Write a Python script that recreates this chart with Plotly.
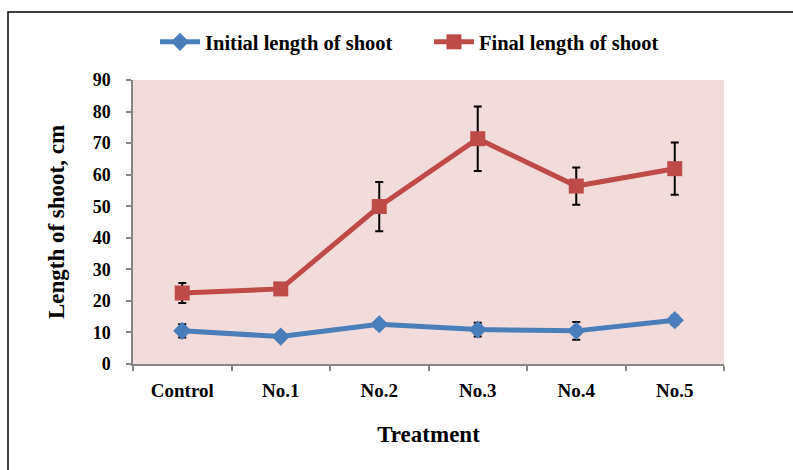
import plotly.graph_objects as go

# Treatment groups and measured shoot lengths (cm), mean ± error
treatments = ["Control", "No.1", "No.2", "No.3", "No.4", "No.5"]
initial_len = [10.5, 8.7, 12.6, 10.9, 10.5, 13.9]
initial_err = [2.1, 1.3, 0.8, 2.2, 2.8, 1.5]
final_len = [22.5, 23.8, 49.9, 71.4, 56.4, 61.9]
final_err = [3.2, 1.0, 7.8, 10.2, 5.9, 8.3]
y_ticks = [0, 10, 20, 30, 40, 50, 60, 70, 80, 90]

BLUE = "#4A7EBB"
RED = "#BE4B48"
FONT = "Liberation Serif"

fig = go.Figure()

fig.add_trace(go.Scatter(
    x=treatments, y=initial_len, name="Initial length of shoot",
    mode="lines+markers",
    line=dict(color=BLUE, width=5),
    marker=dict(symbol="diamond", size=14, color=BLUE),
    error_y=dict(type="data", array=initial_err, color="black",
                 thickness=2, width=4),
))

fig.add_trace(go.Scatter(
    x=treatments, y=final_len, name="Final length of shoot",
    mode="lines+markers",
    line=dict(color=RED, width=5),
    marker=dict(symbol="square", size=15, color=RED),
    error_y=dict(type="data", array=final_err, color="black",
                 thickness=2, width=4),
))

W, H = 793, 470
L, R, T, B = 133, 69, 80, 106
pw, ph = W - L - R, H - T - B

def px_x(p):
    return (p - L) / pw

def px_y(p):
    return (H - B - p) / ph

# Outer frame around the whole chart
fig.add_shape(type="rect", xref="paper", yref="paper",
              x0=px_x(8), x1=px_x(805), y0=px_y(480), y1=px_y(12),
              line=dict(color="black", width=1.5), fillcolor="rgba(0,0,0,0)",
              layer="above")

fig.update_layout(
    width=W, height=H,
    margin=dict(l=L, r=R, t=T, b=B),
    paper_bgcolor="white",
    plot_bgcolor="#F2DCDB",
    font=dict(family=FONT, color="black"),
    showlegend=True,
    legend=dict(
        orientation="h", x=px_x(429), xanchor="center",
        y=px_y(42), yanchor="middle",
        font=dict(family=FONT, size=20.5, color="black", weight="bold"),
        bgcolor="rgba(0,0,0,0)", itemwidth=40, tracegroupgap=0,
        entrywidth=219,
    ),
    xaxis=dict(
        type="category", range=[-0.5, 5.5],
        tickson="boundaries", ticks="outside", ticklen=5, tickwidth=1.5,
        tickcolor="#868686", showline=True, linecolor="#868686", linewidth=1.5,
        showgrid=False, zeroline=False,
        tickfont=dict(family=FONT, size=19, weight="bold"),
        ticklabelstandoff=8,
        title=dict(text="Treatment", standoff=26,
                   font=dict(family=FONT, size=23, weight="bold")),
    ),
    yaxis=dict(
        range=[0, 90], tickvals=y_ticks,
        ticks="outside", ticklen=5, tickwidth=1.5, tickcolor="#868686",
        showline=True, linecolor="#868686", linewidth=1.5,
        showgrid=False, zeroline=False,
        tickfont=dict(family=FONT, size=18, weight="bold"),
        ticklabelstandoff=12,
        title=dict(text="Length of shoot, cm", standoff=22,
                   font=dict(family=FONT, size=23, weight="bold")),
    ),
)

fig.write_html("out.html")
